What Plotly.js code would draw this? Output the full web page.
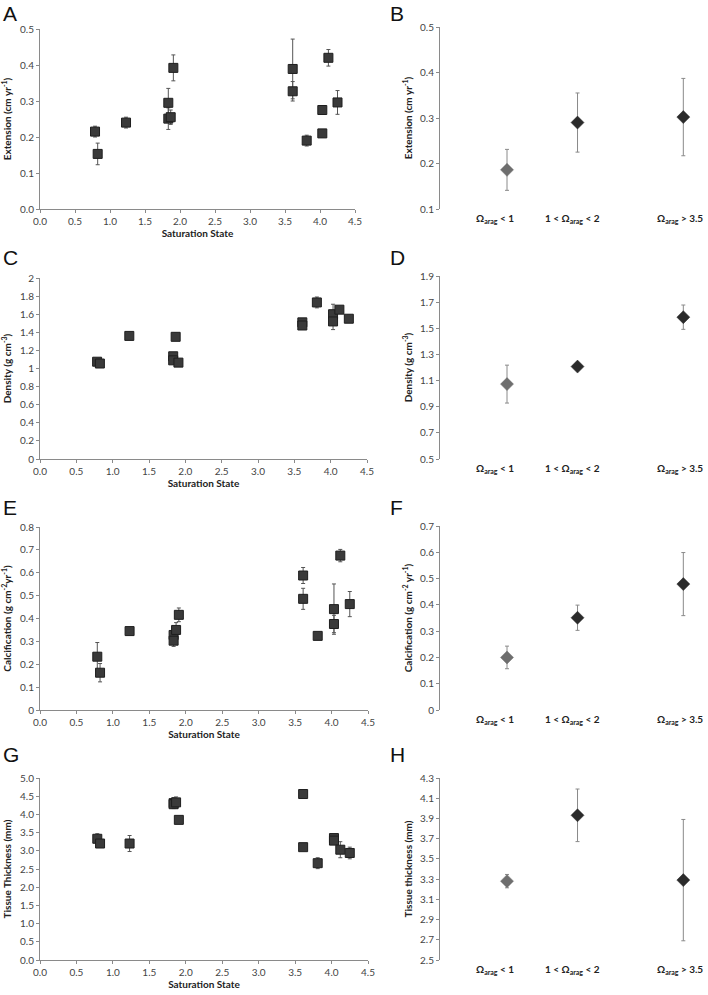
<!DOCTYPE html>
<html>
<head>
<meta charset="utf-8">
<script src="https://cdn.plot.ly/plotly-3.0.1.min.js"></script>
<style>html,body{margin:0;padding:0;background:#fff;}#chart{width:708px;height:995px;}</style>
</head>
<body>
<div id="chart"></div>
<script>
// Saturation state of each site (x in left panels)
const satState = [0.786, 0.824, 1.229, 1.833, 1.833, 1.867, 1.905, 3.61, 3.61, 3.81, 4.033, 4.033, 4.12, 4.25];
// Panel A: extension (cm yr-1)
const extension    = [0.215, 0.153, 0.240, 0.295, 0.251, 0.255, 0.392, 0.389, 0.327, 0.190, 0.210, 0.275, 0.420, 0.296];
const extensionErr = [0.015, 0.030, 0.015, 0.040, 0.030, 0.020, 0.036, 0.083, 0.027, 0.015, 0.010, 0.010, 0.023, 0.033];
// Panel C: density (g cm-3)
const density    = [1.075, 1.055, 1.360, 1.135, 1.090, 1.350, 1.065, 1.510, 1.475, 1.730, 1.600, 1.520, 1.650, 1.550];
const densityErr = [0.020, 0.020, 0.020, 0.030, 0.030, 0.040, 0.020, 0.020, 0.030, 0.060, 0.110, 0.090, 0.020, 0.040];
// Panel E: calcification (g cm-2 yr-1)
const calcification    = [0.233, 0.163, 0.345, 0.328, 0.303, 0.350, 0.416, 0.588, 0.486, 0.324, 0.441, 0.376, 0.675, 0.463];
const calcificationErr = [0.062, 0.040, 0.015, 0.030, 0.025, 0.032, 0.030, 0.035, 0.046, 0.012, 0.110, 0.038, 0.027, 0.055];
// Panel G: tissue thickness (mm)
const tissue    = [3.33, 3.20, 3.20, 4.31, 4.28, 4.33, 3.85, 4.56, 3.10, 2.66, 3.35, 3.28, 3.03, 2.94];
const tissueErr = [0.14, 0.05, 0.22, 0.15, 0.10, 0.15, 0.06, 0.08, 0.06, 0.15, 0.08, 0.08, 0.22, 0.16];

// Right panels: grouped means
const groupX = [1, 2, 3.5];
const groupLabels = ['Ω<sub>arag</sub> &lt; 1', '1 &lt; Ω<sub>arag</sub> &lt; 2', 'Ω<sub>arag</sub> &gt; 3.5'];
const groupColors = ['#6e6e6e', '#2b2b2b', '#2b2b2b'];
const extMean = [0.186, 0.290, 0.302];  const extSE = [0.045, 0.065, 0.085];
const denMean = [1.073, 1.207, 1.585];  const denSE = [0.145, 0.012, 0.093];
const calMean = [0.200, 0.351, 0.479];  const calSE = [0.043, 0.048, 0.120];
const tisMean = [3.280, 3.931, 3.290];  const tisSE = [0.066, 0.260, 0.600];

// Axis setup
const leftY = [
  {vals: extension, err: extensionErr, title: '<b>Extension (cm yr<sup>-1</sup>)</b>', range: [0, 0.5], dtick: 0.1, fmt: '.1f'},
  {vals: density, err: densityErr, title: '<b>Density (g cm<sup>-3</sup>)</b>', range: [0, 2], dtick: 0.2, fmt: ''},
  {vals: calcification, err: calcificationErr, title: '<b>Calcification (g cm<sup>-2</sup>yr<sup>-1</sup>)</b>', range: [0, 0.8], dtick: 0.1, fmt: ''},
  {vals: tissue, err: tissueErr, title: '<b>Tissue Thickness (mm)</b>', range: [0, 5], dtick: 0.5, fmt: '.1f'}
];
const rightY = [
  {vals: extMean, err: extSE, title: '<b>Extension (cm yr<sup>-1</sup>)</b>', range: [0.1, 0.5], dtick: 0.1, tick0: 0.1},
  {vals: denMean, err: denSE, title: '<b>Density (g cm<sup>-3</sup>)</b>', range: [0.5, 1.9], dtick: 0.2, tick0: 0.5},
  {vals: calMean, err: calSE, title: '<b>Calcification (g cm<sup>-2</sup> yr<sup>-1</sup>)</b>', range: [0, 0.7], dtick: 0.1, tick0: 0},
  {vals: tisMean, err: tisSE, title: '<b>Tissue thickness (mm)</b>', range: [2.5, 4.3], dtick: 0.2, tick0: 2.5}
];

const W = 708, H = 995;
const fx = p => p / W;
const fy = p => 1 - p / H;
// pixel boxes [left, right, top, bottom]
const leftBoxes  = [[40, 355, 29, 209], [40, 367, 278, 459], [40, 368, 527, 710], [40, 368, 778, 960]];
const rightBoxes = [[440, 708, 27, 209], [440, 708, 276, 459], [440, 708, 526, 710], [440, 708, 778, 960]];
const letters = [['A','B'], ['C','D'], ['E','F'], ['G','H']];
const letterTop = [0, 244, 494, 741];

const tickFont = {family: 'Lato, "Open Sans", sans-serif', size: 10, color: '#444'};
const titleFont = {family: 'Lato, "Open Sans", sans-serif', size: 10, color: '#222'};
const axisCol = '#8a8a8a';

const data = [];
const layout = {
  width: W, height: H,
  margin: {l: 0, r: 0, t: 0, b: 0},
  paper_bgcolor: '#fff', plot_bgcolor: '#fff',
  showlegend: false,
  annotations: []
};

for (let i = 0; i < 4; i++) {
  const li = 2 * i + 1, ri = 2 * i + 2;
  const xl = 'x' + li, yl = 'y' + li, xr = 'x' + ri, yr = 'y' + ri;
  const L = leftY[i], R = rightY[i];
  const lb = leftBoxes[i], rb = rightBoxes[i];

  data.push({
    type: 'scatter', mode: 'markers', x: satState, y: L.vals,
    xaxis: xl, yaxis: yl,
    marker: {symbol: 'square', size: 9, color: '#3a3a3a', line: {color: '#1e1e1e', width: 1}},
    error_y: {type: 'data', array: L.err, visible: true, color: '#555', thickness: 1, width: 2}
  });
  data.push({
    type: 'scatter', mode: 'markers', x: groupX, y: R.vals,
    xaxis: xr, yaxis: yr,
    marker: {symbol: 'diamond', size: 10, color: groupColors, line: {color: groupColors, width: 0.5}},
    error_y: {type: 'data', array: R.err, visible: true, color: '#8a8a8a', thickness: 1, width: 2}
  });

  layout['xaxis' + li] = {
    domain: [fx(lb[0]), fx(lb[1])], anchor: yl, range: [0, 4.5], dtick: 0.5, tick0: 0,
    tickformat: '.1f', showgrid: false, zeroline: false, showline: true, linecolor: axisCol, linewidth: 1,
    ticks: 'outside', ticklen: 3, tickcolor: axisCol, tickfont: tickFont,
    title: {text: '<b>Saturation State</b>', font: titleFont, standoff: 3}
  };
  layout['yaxis' + li] = {
    domain: [fy(lb[3]), fy(lb[2])], anchor: xl, range: L.range, dtick: L.dtick, tick0: 0,
    tickformat: L.fmt, showgrid: false, zeroline: false, showline: true, linecolor: axisCol, linewidth: 1,
    ticks: 'outside', ticklen: 3, tickcolor: axisCol, tickfont: tickFont,
    title: {text: L.title, font: titleFont, standoff: 6}
  };
  layout['xaxis' + ri] = {
    domain: [fx(rb[0]), fx(rb[1])], anchor: yr, range: [0.05, 3.85], visible: false,
    showgrid: false, zeroline: false, showline: false, showticklabels: false, ticks: ''
  };
  layout['yaxis' + ri] = {
    domain: [fy(rb[3]), fy(rb[2])], anchor: xr, range: R.range, dtick: R.dtick, tick0: R.tick0,
    showgrid: false, zeroline: false, showline: true, linecolor: axisCol, linewidth: 1,
    ticks: 'outside', ticklen: 3, tickcolor: axisCol, tickfont: tickFont,
    title: {text: R.title, font: titleFont, standoff: 5}
  };

  // category labels under right panels
  const shifts = [-12, -5, -3];
  groupX.forEach((gx, k) => {
    layout.annotations.push({
      xref: xr, yref: yr + ' domain', x: gx, y: 0, yshift: -9, xshift: shifts[k],
      xanchor: 'center', yanchor: 'middle', showarrow: false,
      text: '<b>' + groupLabels[k] + '</b>',
      font: {family: 'Lato, "Open Sans", sans-serif', size: 10, color: '#222'}
    });
  });

  // panel letters
  layout.annotations.push({
    xref: 'paper', yref: 'paper', x: fx(1), y: fy(letterTop[i]), xanchor: 'left', yanchor: 'top',
    showarrow: false, text: letters[i][0],
    font: {family: '"Liberation Sans", Arial, sans-serif', size: 21, color: '#111'}
  });
  layout.annotations.push({
    xref: 'paper', yref: 'paper', x: fx(388), y: fy(letterTop[i]), xanchor: 'left', yanchor: 'top',
    showarrow: false, text: letters[i][1],
    font: {family: '"Liberation Sans", Arial, sans-serif', size: 21, color: '#111'}
  });
}

Plotly.newPlot('chart', data, layout, {displayModeBar: false});
</script>
</body>
</html>
